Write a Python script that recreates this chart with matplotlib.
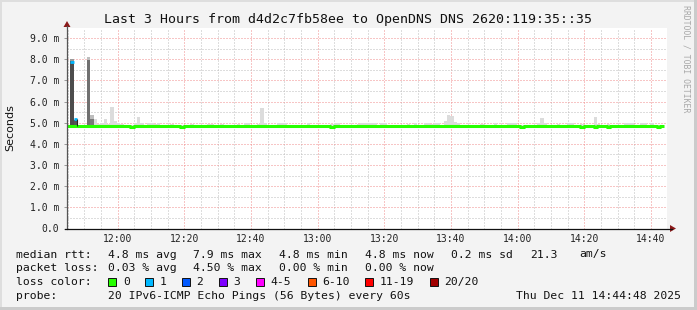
import numpy as np
import pandas as pd
import matplotlib
matplotlib.use("Agg")
import matplotlib.pyplot as plt
from matplotlib.patches import Rectangle, Polygon
from matplotlib.lines import Line2D

# ---- data (values in ms, one slot per minute from 11:44:48) ----
start = pd.Timestamp("2025-12-11 11:44:48")
n_min = 180

# median rtt per minute
median_ms = [
    4.87, 4.87, 4.87, 4.87, 4.87, 4.87, 4.87, 4.87, 4.87, 4.87, 4.87, 4.87, 4.87, 4.87, 4.87, 4.87, 4.87, 4.87, 4.87, 4.79,
    4.87, 4.87, 4.87, 4.87, 4.87, 4.87, 4.87, 4.87, 4.87, 4.87, 4.87, 4.87, 4.87, 4.87, 4.79, 4.87, 4.87, 4.87, 4.87, 4.87,
    4.87, 4.87, 4.87, 4.87, 4.87, 4.87, 4.87, 4.87, 4.87, 4.87, 4.87, 4.87, 4.87, 4.87, 4.87, 4.87, 4.87, 4.87, 4.87, 4.87,
    4.87, 4.87, 4.87, 4.87, 4.87, 4.87, 4.87, 4.87, 4.87, 4.87, 4.87, 4.87, 4.87, 4.87, 4.87, 4.87, 4.87, 4.87, 4.87, 4.79,
    4.87, 4.87, 4.87, 4.87, 4.87, 4.87, 4.87, 4.87, 4.87, 4.87, 4.87, 4.87, 4.87, 4.87, 4.87, 4.87, 4.87, 4.87, 4.87, 4.87,
    4.87, 4.87, 4.87, 4.87, 4.87, 4.87, 4.87, 4.87, 4.87, 4.87, 4.87, 4.87, 4.87, 4.87, 4.87, 4.87, 4.87, 4.87, 4.87, 4.87,
    4.87, 4.87, 4.87, 4.87, 4.87, 4.87, 4.87, 4.87, 4.87, 4.87, 4.87, 4.87, 4.87, 4.87, 4.87, 4.87, 4.79, 4.87, 4.87, 4.87,
    4.87, 4.87, 4.87, 4.87, 4.87, 4.87, 4.87, 4.87, 4.87, 4.87, 4.87, 4.87, 4.87, 4.87, 4.79, 4.87, 4.87, 4.87, 4.79, 4.87,
    4.87, 4.87, 4.79, 4.87, 4.87, 4.87, 4.87, 4.87, 4.87, 4.87, 4.87, 4.87, 4.87, 4.87, 4.87, 4.87, 4.87, 4.79, 4.87, np.nan,
]

# top of the smoke per minute
smoke_hi = [
    4.88, 8.00, 5.20, 4.88, 4.88, 4.90, 8.10, 5.36, 5.20, 4.95, 4.98, 5.20, 4.95, 5.75, 5.10, 5.00, 4.95, 4.90, 4.88, 4.90,
    5.00, 5.27, 5.00, 4.90, 4.97, 4.97, 4.95, 4.97, 4.90, 4.88, 4.90, 4.95, 4.88, 4.90, 4.88, 4.90, 4.88, 4.95, 4.90, 4.88,
    4.90, 4.88, 4.95, 4.96, 4.88, 4.90, 4.95, 4.88, 4.90, 4.88, 4.90, 4.95, 4.88, 4.97, 4.97, 4.90, 4.88, 4.95, 5.70, 5.00,
    4.90, 4.88, 4.90, 5.00, 5.00, 4.97, 4.90, 4.88, 4.90, 4.88, 4.90, 4.88, 4.97, 4.90, 4.88, 4.90, 4.88, 4.90, 4.88, 4.95,
    4.97, 4.97, 4.90, 4.88, 4.90, 4.88, 4.90, 4.95, 4.97, 4.97, 4.97, 5.00, 4.97, 4.90, 4.97, 4.97, 4.90, 4.88, 4.90, 4.88,
    4.90, 4.88, 4.95, 4.90, 4.97, 4.88, 4.90, 4.97, 4.97, 4.95, 4.97, 4.97, 4.90, 5.10, 5.36, 5.30, 5.05, 4.97, 4.90, 4.88,
    4.90, 4.88, 4.90, 4.88, 4.95, 4.88, 4.90, 4.88, 4.97, 4.90, 4.88, 4.90, 5.00, 5.00, 4.97, 4.90, 4.88, 4.90, 4.88, 4.90,
    4.88, 5.00, 5.21, 4.97, 4.90, 4.88, 4.90, 4.95, 4.88, 4.90, 4.97, 4.97, 4.90, 4.88, 4.95, 4.90, 4.88, 4.90, 5.26, 4.95,
    4.90, 4.88, 4.95, 4.90, 4.88, 4.90, 4.88, 4.97, 4.97, 4.97, 4.90, 4.88, 4.97, 4.97, 4.90, 4.97, 4.90, 4.90, 4.88, np.nan,
]

# bottom of the smoke per minute
smoke_lo = [
    4.80, 4.80, 4.80, 4.80, 4.80, 4.80, 4.80, 4.80, 4.80, 4.80, 4.74, 4.80, 4.80, 4.80, 4.74, 4.80, 4.80, 4.80, 4.80, 4.80,
    4.80, 4.80, 4.80, 4.80, 4.80, 4.74, 4.74, 4.80, 4.80, 4.80, 4.80, 4.80, 4.80, 4.80, 4.80, 4.80, 4.80, 4.80, 4.80, 4.80,
    4.80, 4.80, 4.80, 4.80, 4.80, 4.80, 4.80, 4.80, 4.80, 4.80, 4.74, 4.74, 4.80, 4.80, 4.80, 4.80, 4.80, 4.80, 4.80, 4.80,
    4.80, 4.80, 4.74, 4.74, 4.80, 4.80, 4.80, 4.80, 4.80, 4.80, 4.74, 4.74, 4.74, 4.80, 4.80, 4.80, 4.80, 4.80, 4.80, 4.80,
    4.80, 4.80, 4.80, 4.80, 4.80, 4.80, 4.80, 4.80, 4.80, 4.80, 4.80, 4.74, 4.80, 4.80, 4.80, 4.74, 4.74, 4.80, 4.80, 4.80,
    4.80, 4.80, 4.80, 4.80, 4.74, 4.80, 4.80, 4.80, 4.74, 4.74, 4.74, 4.80, 4.80, 4.80, 4.80, 4.80, 4.80, 4.80, 4.80, 4.80,
    4.80, 4.80, 4.80, 4.80, 4.74, 4.80, 4.80, 4.80, 4.80, 4.80, 4.80, 4.80, 4.80, 4.80, 4.80, 4.80, 4.80, 4.80, 4.80, 4.80,
    4.80, 4.80, 4.80, 4.74, 4.80, 4.80, 4.80, 4.80, 4.80, 4.80, 4.80, 4.80, 4.80, 4.74, 4.74, 4.80, 4.80, 4.80, 4.80, 4.80,
    4.80, 4.80, 4.80, 4.80, 4.80, 4.80, 4.74, 4.80, 4.80, 4.80, 4.80, 4.74, 4.80, 4.80, 4.80, 4.80, 4.74, 4.80, 4.80, np.nan,
]

# dense smoke (most pings) on the early spikes
dense_min = [1, 2, 6, 7]
dense_lo = [4.90, 4.88, 4.90, 4.88]
dense_hi = [7.90, 5.15, 7.95, 5.20]

# minutes with one lost ping and their median
loss1_min = [1, 2]
loss1_median = [7.86, 5.17]

y_ticks = [0, 1, 2, 3, 4, 5, 6, 7, 8, 9]
y_labels = ["0.0", "1.0 m", "2.0 m", "3.0 m", "4.0 m", "5.0 m", "6.0 m", "7.0 m", "8.0 m", "9.0 m"]
x_labels = ["12:00", "12:20", "12:40", "13:00", "13:20", "13:40", "14:00", "14:20", "14:40"]

legend_rows = [
    ["median rtt:", "4.8 ms avg", "7.9 ms max", "4.8 ms min", "4.8 ms now", "0.2 ms sd", "21.3", "am/s"],
    ["packet loss:", "0.03 % avg", "4.50 % max", "0.00 % min", "0.00 % now"],
]
loss_labels = ["0", "1", "2", "3", "4-5", "6-10", "11-19", "20/20"]
loss_colors = ["#26ff00", "#00b8ff", "#0059ff", "#7e00ff", "#ff00ff", "#ff5500", "#ff0000", "#a10000"]

# ---- figure ----
W, H = 697, 310
fig = plt.figure(figsize=(W / 100, H / 100), dpi=100)
fig.patch.set_facecolor("#f3f3f3")
MONO = "DejaVu Sans Mono"


def fx(x):
    return x / W


def fy(y):
    return 1 - y / H


# frame
fig.add_artist(Rectangle((0, fy(2)), 1, 2 / H, transform=fig.transFigure, color="#dedede", lw=0))
fig.add_artist(Rectangle((0, 0), 2 / W, 1, transform=fig.transFigure, color="#dedede", lw=0))
fig.add_artist(Rectangle((fx(694), 0), 3 / W, 1, transform=fig.transFigure, color="#cbcbcb", lw=0))
fig.add_artist(Rectangle((0, 0), 1, 3 / H, transform=fig.transFigure, color="#cbcbcb", lw=0))

left, right, top, bottom = 67, 667, 28, 228.5
ax = fig.add_axes([fx(left), fy(bottom), (right - left) / W, (bottom - top) / H])
ax.set_facecolor("white")
ax.set_xlim(0, n_min)
ax.set_ylim(0, 9.48)
for s in ax.spines.values():
    s.set_visible(False)

minutes = np.arange(n_min)


def tmin(hhmm):
    return (pd.Timestamp("2025-12-11 " + hhmm) - start).total_seconds() / 60


# grid
minor_x = [tmin(t.strftime("%H:%M")) for t in pd.date_range("2025-12-11 11:45", "2025-12-11 14:40", freq="5min")]
major_x = [tmin(t) for t in x_labels]
dot = (0, (1, 2))
for v in minor_x:
    if v not in major_x:
        ax.axvline(v, color="#bdbdbd", lw=0.72, ls=dot, zorder=0)
for v in major_x:
    ax.axvline(v, color="#f08c8c", lw=0.72, ls=dot, zorder=0)
for v in np.arange(0.5, 9.5, 1.0):
    ax.axhline(v, color="#bdbdbd", lw=0.72, ls=dot, zorder=0)
for v in y_ticks[1:]:
    ax.axhline(v, color="#f08c8c", lw=0.72, ls=dot, zorder=0)

# smoke
hi = np.array(smoke_hi)
lo = np.array(smoke_lo)
ax.bar(minutes, hi - lo, bottom=lo, width=1, align="edge", color="#dcdcdc", lw=0, zorder=1)
dense_cols = ["#4d4d4d", "#555555", "#707070", "#7a7a7a"]
for m, a, b, c in zip(dense_min, dense_lo, dense_hi, dense_cols):
    ax.bar(m, b - a, bottom=a, width=1, align="edge", color=c, lw=0, zorder=2)
ax.bar(1, 0.1, bottom=7.9, width=1, align="edge", color="#9a9a9a", lw=0, zorder=2)
ax.bar(6, 0.15, bottom=7.95, width=1, align="edge", color="#bdbdbd", lw=0, zorder=2)
ax.bar(7, 0.16, bottom=5.2, width=1, align="edge", color="#bdbdbd", lw=0, zorder=2)

# median line
med = np.array(median_ms)
xs = np.append(minutes, n_min)
ys = np.append(med, med[-1])
ax.step(xs, ys, where="post", color="#26ff00", lw=2.2, zorder=3, solid_capstyle="butt")
for m, v in zip(loss1_min, loss1_median):
    ax.hlines(v, m, m + 1, color="#00b8ff", lw=2.0, zorder=4)
ax.vlines(3, 4.87, 5.17, color="#222222", lw=0.8, zorder=4)

# ticks
ax.set_yticks(y_ticks)
ax.set_yticklabels(y_labels, family=MONO, fontsize=7, color="#222222")
ax.set_xticks(major_x)
ax.set_xticklabels(x_labels, family=MONO, fontsize=7, color="#222222")
ax.tick_params(axis="y", length=2.5, width=0.7, color="#999999", pad=3)
ax.tick_params(axis="x", length=0, pad=4)

# axes lines with arrows
fig.add_artist(Line2D([fx(left), fx(left)], [fy(bottom), fy(26)], transform=fig.transFigure, color="#555555", lw=0.9))
fig.add_artist(Line2D([fx(left - 2), fx(672)], [fy(bottom), fy(bottom)], transform=fig.transFigure, color="#111111", lw=0.9))
fig.add_artist(Polygon([[fx(left - 3.5), fy(27)], [fx(left + 3.5), fy(27)], [fx(left), fy(21)]],
                       closed=True, transform=fig.transFigure, color="#8b1a1a", lw=0))
fig.add_artist(Polygon([[fx(670), fy(bottom - 3.5)], [fx(670), fy(bottom + 3.5)], [fx(676), fy(bottom)]],
                       closed=True, transform=fig.transFigure, color="#8b1a1a", lw=0))

# title, labels, watermark
fig.text(fx(348), fy(19), "Last 3 Hours from d4d2c7fb58ee to OpenDNS DNS 2620:119:35::35",
         family=MONO, fontsize=9.5, ha="center", va="center", color="#111111")
fig.text(fx(10), fy(128), "Seconds", family="DejaVu Sans", fontsize=8, rotation=90,
         ha="center", va="center", color="#111111")
fig.text(fx(686), fy(5), "RRDTOOL / TOBI OETIKER", family=MONO, fontsize=5.9, rotation=-90,
         ha="center", va="top", color="#a8a8a8")

# legend
cols = [16.4, 107.6, 192.9, 279, 365, 451, 530, 579]
row_y = [254.5, 268.3, 282.3, 296]
for r, row in enumerate(legend_rows):
    for x, s in zip(cols, row):
        fig.text(fx(x), fy(row_y[r]), s, family=MONO, fontsize=8.2, ha="left", va="center", color="#111111")

fig.text(fx(16.4), fy(row_y[2]), "loss color:", family=MONO, fontsize=8.2, ha="left", va="center", color="#111111")
box_x = [108.4, 145, 182, 219, 256, 307.6, 365, 430]
for bx, lab, c in zip(box_x, loss_labels, loss_colors):
    fig.add_artist(Rectangle((fx(bx), fy(row_y[2] + 4)), 8 / W, 8 / H, transform=fig.transFigure,
                             facecolor=c, edgecolor="#111111", lw=0.7))
    fig.text(fx(bx + 14.6), fy(row_y[2]), lab, family=MONO, fontsize=8.2, ha="left", va="center", color="#111111")

fig.text(fx(16.4), fy(row_y[3]), "probe:", family=MONO, fontsize=8.2, ha="left", va="center", color="#111111")
fig.text(fx(107.6), fy(row_y[3]), "20 IPv6-ICMP Echo Pings (56 Bytes) every 60s", family=MONO, fontsize=8.2,
         ha="left", va="center", color="#111111")
fig.text(fx(681), fy(row_y[3]), "Thu Dec 11 14:44:48 2025", family=MONO, fontsize=8.2,
         ha="right", va="center", color="#111111")

fig.savefig("out.png", dpi=100, facecolor=fig.get_facecolor())
